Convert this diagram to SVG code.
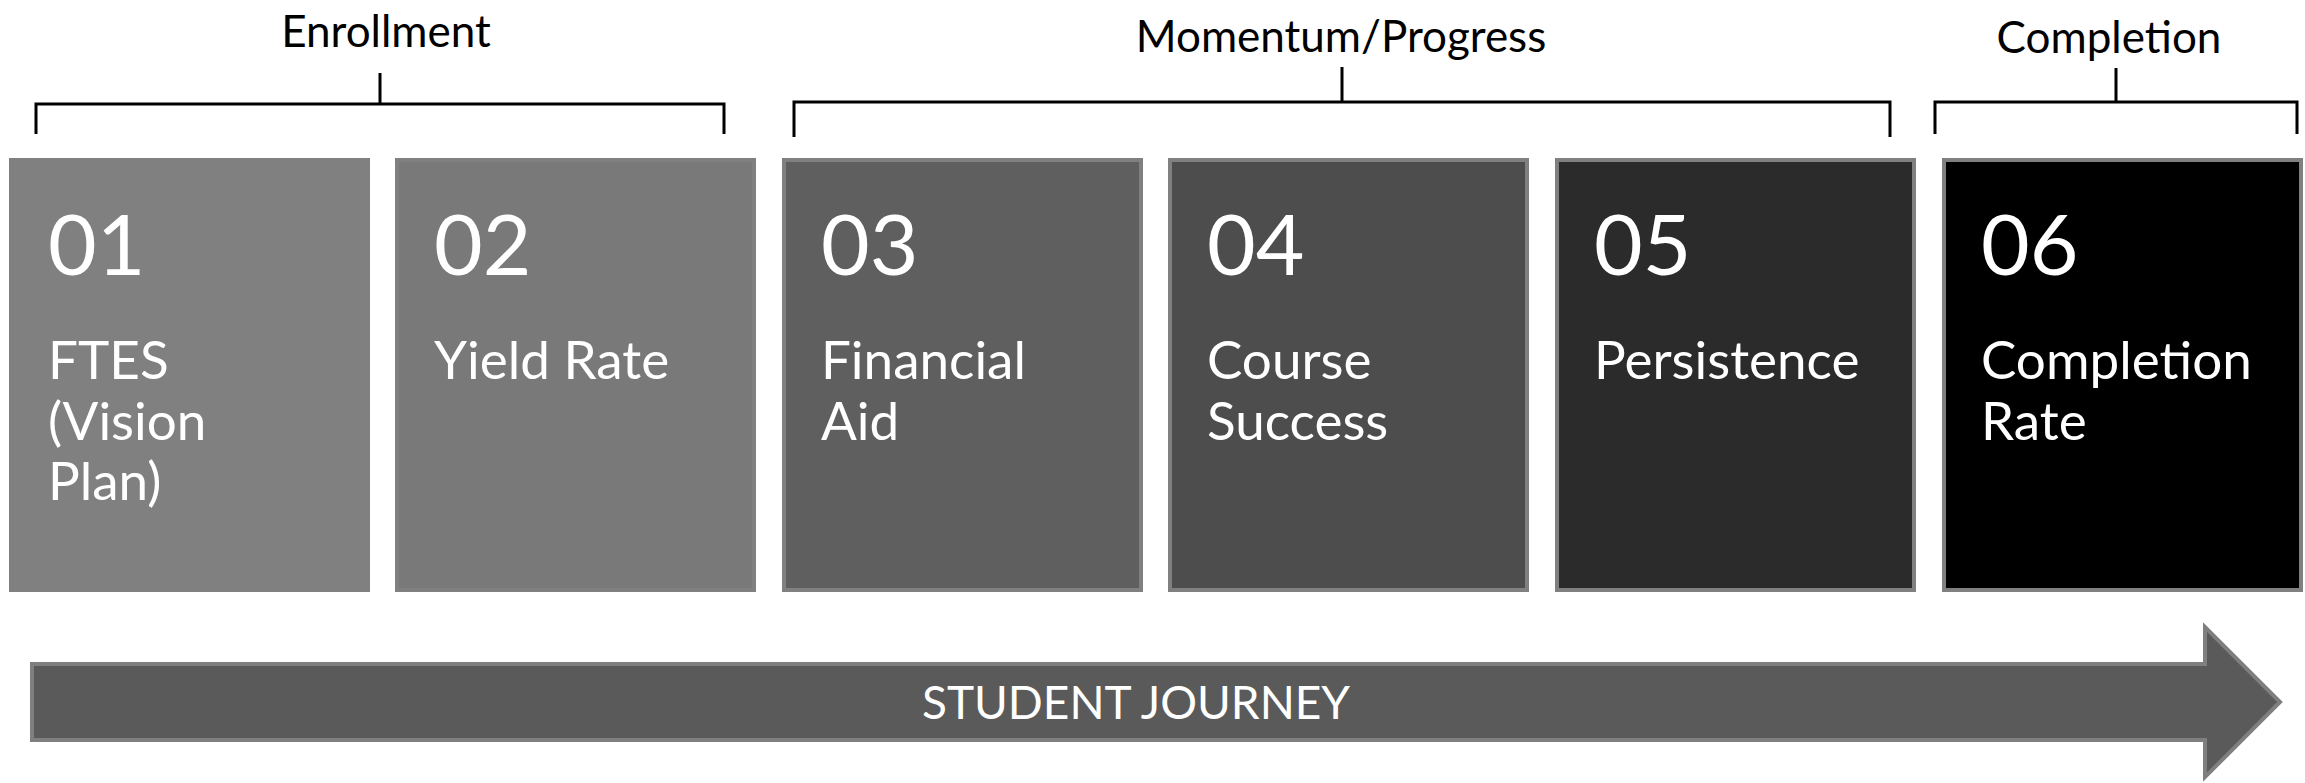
<svg xmlns="http://www.w3.org/2000/svg" width="2305" height="783" viewBox="0 0 2305 783">
  <style>
    .hd { font-family: Lato, "Liberation Sans", sans-serif; font-size: 44px; fill: #000; text-anchor: middle; }
    .br { fill: none; stroke: #000; stroke-width: 3; }
    .box { stroke: #808080; stroke-width: 4; }
    .num { font-family: Lato, "Liberation Sans", sans-serif; font-size: 84px; fill: #fff; }
    .lbl { font-family: Lato, "Liberation Sans", sans-serif; font-size: 53px; fill: #fff; }
    .arr { fill: #5a5a5a; stroke: #7f7f7f; stroke-width: 4; stroke-linejoin: miter; }
    .arrt { font-family: Lato, "Liberation Sans", sans-serif; font-size: 46px; fill: #fff; text-anchor: middle; }
  </style>
  <rect width="2305" height="783" fill="#fff"/>

  <g id="phase-headings">
    <text class="hd" x="386" y="47">Enrollment</text>
    <text class="hd" x="1341" y="52">Momentum/Progress</text>
    <text class="hd" x="2109" y="53">Completion</text>
  </g>

  <g id="connectors">
    <path class="br" d="M36,134 V104 H724 V134 M380,73 V104"/>
    <path class="br" d="M794,137 V102 H1890 V137 M1342,67 V102"/>
    <path class="br" d="M1935,134 V102 H2297 V134 M2116,68 V102"/>
  </g>

  <g id="node-01">
    <rect class="box" x="11" y="160" width="357" height="430" fill="#808080"/>
    <text class="num" x="48" y="275">01</text>
    <text class="lbl" x="48" y="379">FTES</text>
    <text class="lbl" x="48" y="440">(Vision</text>
    <text class="lbl" x="48" y="500">Plan)</text>
  </g>
  <g id="node-02">
    <rect class="box" x="397" y="160" width="357" height="430" fill="#797979"/>
    <text class="num" x="434" y="275">02</text>
    <text class="lbl" x="434" y="379">Yield Rate</text>
  </g>
  <g id="node-03">
    <rect class="box" x="784" y="160" width="357" height="430" fill="#5f5f5f"/>
    <text class="num" x="821" y="275">03</text>
    <text class="lbl" x="821" y="379">Financial</text>
    <text class="lbl" x="821" y="440">Aid</text>
  </g>
  <g id="node-04">
    <rect class="box" x="1170" y="160" width="357" height="430" fill="#4d4d4d"/>
    <text class="num" x="1207" y="275">04</text>
    <text class="lbl" x="1207" y="379">Course</text>
    <text class="lbl" x="1207" y="440">Success</text>
  </g>
  <g id="node-05">
    <rect class="box" x="1557" y="160" width="357" height="430" fill="#2b2b2b"/>
    <text class="num" x="1594" y="275">05</text>
    <text class="lbl" x="1594" y="379">Persistence</text>
  </g>
  <g id="node-06">
    <rect class="box" x="1944" y="160" width="357" height="430" fill="#000"/>
    <text class="num" x="1981" y="275">06</text>
    <text class="lbl" x="1981" y="379">Completion</text>
    <text class="lbl" x="1981" y="440">Rate</text>
  </g>

  <g id="student-journey">
    <path class="arr" d="M32,664 H2205 V627 L2280,702 L2205,777 V740 H32 Z"/>
    <text class="arrt" x="1136" y="719">STUDENT JOURNEY</text>
  </g>
</svg>
